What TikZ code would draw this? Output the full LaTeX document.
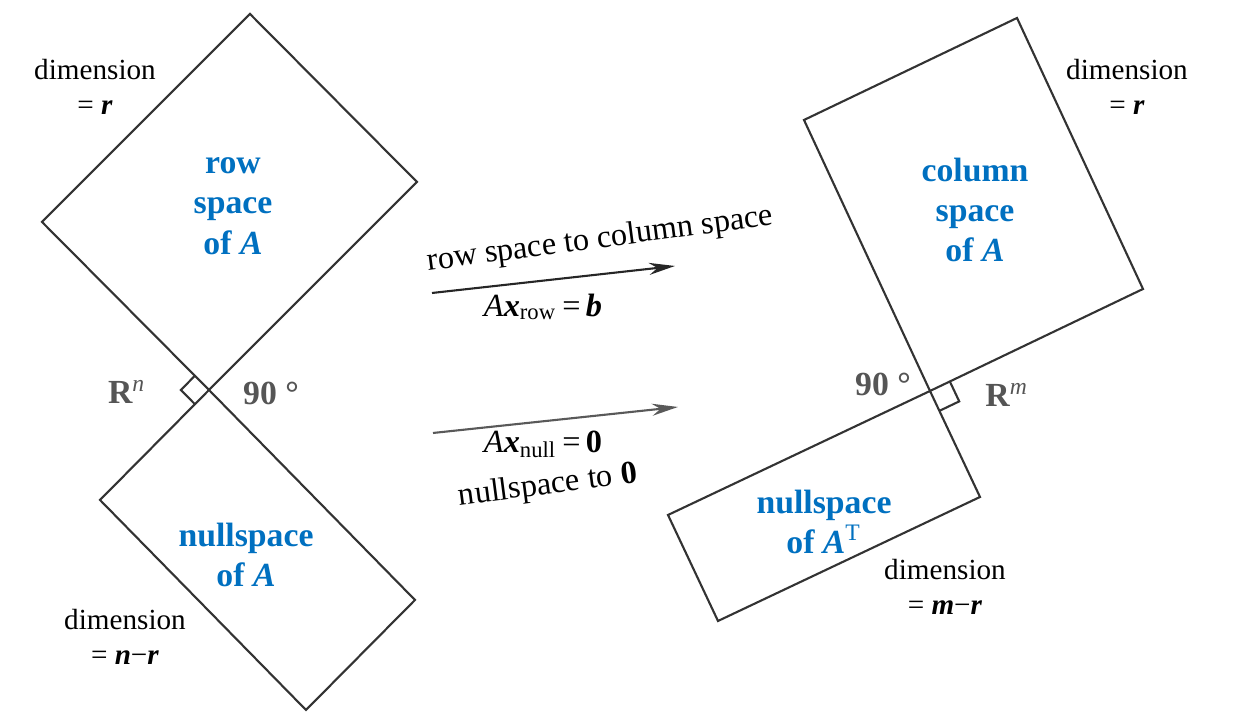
\documentclass[tikz,border=0pt]{standalone}
\usepackage{fontspec}
\setmainfont{Liberation Serif}
\usepackage{tikz}
\usetikzlibrary{calc,arrows.meta}
\definecolor{spaceblue}{RGB}{0,112,192}
\definecolor{markgray}{RGB}{85,85,85}

\begin{document}
\begin{tikzpicture}[
    edge/.style={line width=0.6pt, black!80},
    spacename/.style={text=spaceblue, font=\fontsize{9.6}{11.5}\selectfont\bfseries, align=center},
    dimtext/.style={font=\fontsize{8.3}{10}\selectfont, align=center},
    maptext/.style={font=\fontsize{9.2}{11}\selectfont, inner sep=1pt},
    anglemark/.style={text=markgray, font=\fontsize{9.6}{11}\selectfont\bfseries},
    maparrow/.style={line width=0.6pt, -{Stealth[length=2.6mm,width=1.2mm]}}]
    \useasboundingbox (0,0) rectangle (12.35,7.20);
    % left picture: row space and nullspace of A
    \coordinate (O1) at (2.09,3.30);
    \coordinate (L1) at (0.42,4.98);
    \coordinate (R1) at (4.17,5.38);
    \coordinate (T1) at ($(L1)+(R1)-(O1)$);
    \coordinate (NL1) at (1.00,2.20);
    \coordinate (NR1) at (4.15,1.20);
    \coordinate (NB1) at ($(NL1)+(NR1)-(O1)$);
    \draw[edge] (O1) -- (L1) -- (T1) -- (R1) -- (O1);
    \draw[edge] (O1) -- (NL1) -- (NB1) -- (NR1) -- (O1);
    \draw[edge] ($(O1)!0.2cm!(L1)$) -- ($(O1)!0.2cm!(L1)+(O1)!0.2cm!(NL1)-(O1)$) -- ($(O1)!0.2cm!(NL1)$);
    % right picture: column space and nullspace of A^T
    \coordinate (O2) at (9.30,3.29);
    \coordinate (CL) at (8.04,6.00);
    \coordinate (CR) at (11.43,4.31);
    \coordinate (CT) at ($(CL)+(CR)-(O2)$);
    \coordinate (NL2) at (6.68,2.05);
    \coordinate (NR2) at (9.80,2.23);
    \coordinate (NB2) at ($(NL2)+(NR2)-(O2)$);
    \draw[edge] (O2) -- (CL) -- (CT) -- (CR) -- (O2);
    \draw[edge] (O2) -- (NL2) -- (NB2) -- (NR2) -- (O2);
    \draw[edge] ($(O2)!0.22cm!(CR)$) -- ($(O2)!0.22cm!(CR)+(O2)!0.22cm!(NR2)-(O2)$) -- ($(O2)!0.22cm!(NR2)$);
    % the two maps
    \coordinate (rowfrom) at (4.32,4.27);
    \coordinate (rowto) at (6.75,4.54);
    \coordinate (nullfrom) at (4.33,2.87);
    \coordinate (nullto) at (6.78,3.13);
    \draw[maparrow, black!85] (rowfrom) -- (rowto);
    \draw[maparrow, black!65] (nullfrom) -- (nullto);
    \node[maptext, rotate=7.5] (rowmap) at (6.00,4.80) {row space to column space};
    \node[maptext] (roweq) at (5.43,4.13) {\textit{A}\textbf{\textit{x}}\textsubscript{row}\,=\,\textbf{\textit{b}}};
    \node[maptext] (nulleq) at (5.43,2.76) {\textit{A}\textbf{\textit{x}}\textsubscript{null}\,=\,\textbf{0}};
    \node[maptext, rotate=7.5] (nullmap) at (5.48,2.34) {nullspace to \textbf{0}};
    % labels
    \node[spacename] (rowspace) at (2.33,5.14) {row\\space\\of \textit{A}};
    \node[spacename] (nullspace) at (2.46,1.65) {nullspace\\of \textit{A}};
    \node[spacename] (colspace) at (9.75,5.10) {column\\space\\of \textit{A}};
    \node[spacename] (leftnull) at (8.24,1.98) {nullspace\\of \textit{A}\textsuperscript{\mdseries T}};
    \node[dimtext] (dimrow) at (0.95,6.33) {dimension\\= \textbf{\textit{r}}};
    \node[dimtext] (dimnull) at (1.25,0.83) {dimension\\= \textbf{\textit{n}}−\textbf{\textit{r}}};
    \node[dimtext] (dimcol) at (11.27,6.33) {dimension\\= \textbf{\textit{r}}};
    \node[dimtext] (dimleft) at (9.45,1.33) {dimension\\= \textbf{\textit{m}}−\textbf{\textit{r}}};
    \node[anglemark] (Rn) at (1.27,3.28) {R\textsuperscript{\mdseries\itshape n}};
    \node[anglemark] (ang1) at (2.71,3.27) {90 °};
    \node[anglemark] (ang2) at (8.83,3.36) {90 °};
    \node[anglemark] (Rm) at (10.07,3.25) {R\textsuperscript{\mdseries\itshape m}};
\end{tikzpicture}
\end{document}
